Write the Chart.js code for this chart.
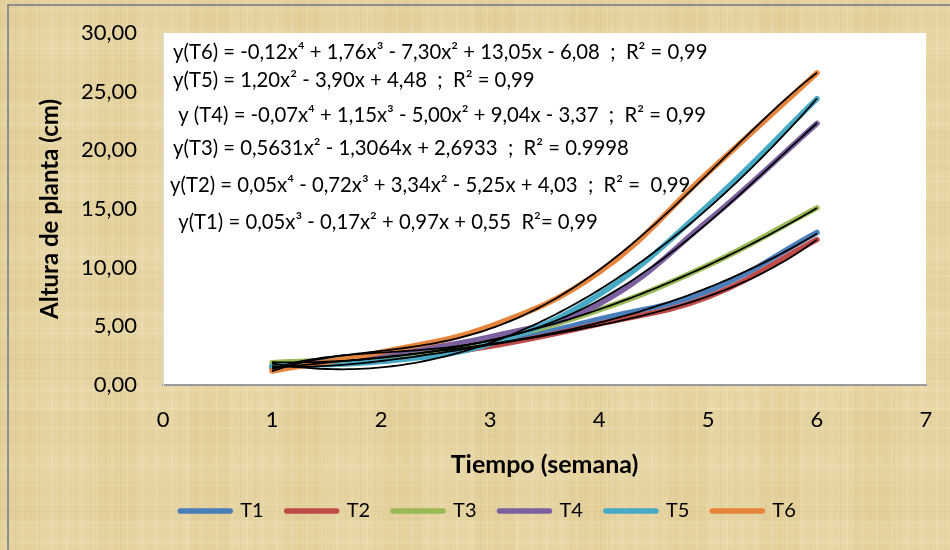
<!DOCTYPE html>
<html><head><meta charset="utf-8">
<script src="https://cdn.jsdelivr.net/npm/chart.js@4.4.1/dist/chart.umd.min.js"></script>
<style>
html,body{margin:0;padding:0;width:950px;height:550px;overflow:hidden;}
body{position:relative;background-color:#e5d3a1;
background-image:
repeating-linear-gradient(90deg, rgba(190,158,85,0.10) 0px, rgba(190,158,85,0.10) 1px, transparent 1px, transparent 6px, rgba(255,248,222,0.14) 6px, rgba(255,248,222,0.14) 8px, transparent 8px, transparent 15px),
repeating-linear-gradient(0deg, rgba(190,158,85,0.08) 0px, rgba(190,158,85,0.08) 1px, transparent 1px, transparent 7px, rgba(255,248,222,0.12) 7px, rgba(255,248,222,0.12) 9px, transparent 9px, transparent 19px),
repeating-linear-gradient(90deg, rgba(205,175,100,0.10) 0px, rgba(205,175,100,0.10) 40px, transparent 40px, transparent 95px),
repeating-linear-gradient(0deg, rgba(255,242,205,0.12) 0px, rgba(255,242,205,0.12) 30px, transparent 30px, transparent 70px);}
#frame{position:absolute;left:7px;top:4px;width:990px;height:600px;border:2px solid #8e8e8e;box-sizing:border-box;}
#wrap{position:absolute;left:0;top:0;width:950px;height:550px;}
</style></head>
<body><div id="frame"></div><div id="wrap"><canvas id="c" width="950" height="550"></canvas></div>
<script>
// ---- data ----
const weeks = [1, 2, 3, 4, 5, 6];
const seriesNames = ['T1', 'T2', 'T3', 'T4', 'T5', 'T6'];
const T1 = [1.5, 2.2, 3.5, 5.6, 8.0, 13.0];
const T2 = [1.6, 2.1, 3.3, 5.2, 7.5, 12.4];
const T3 = [1.9, 2.4, 3.8, 6.4, 10.2, 15.1];
const T4 = [1.4, 2.6, 4.1, 6.9, 14.0, 22.3];
const T5 = [1.6, 2.0, 3.5, 7.7, 15.3, 24.4];
const T6 = [1.2, 2.8, 5.0, 9.6, 18.1, 26.6];
const trendDegrees = [3, 4, 2, 4, 2, 4];
const xTicks = [0, 1, 2, 3, 4, 5, 6, 7];
const yTicks = [0, 5, 10, 15, 20, 25, 30];
const equations = [
  'y(T6) = -0,12x\u2074 + 1,76x\u00B3 - 7,30x\u00B2 + 13,05x - 6,08  ;  R\u00B2 = 0,99',
  'y(T5) = 1,20x\u00B2 - 3,90x + 4,48  ;  R\u00B2 = 0,99',
  ' y (T4) = -0,07x\u2074 + 1,15x\u00B3 - 5,00x\u00B2 + 9,04x - 3,37  ;  R\u00B2 = 0,99',
  'y(T3) = 0,5631x\u00B2 - 1,3064x + 2,6933  ;  R\u00B2 = 0.9998',
  'y(T2) = 0,05x\u2074 - 0,72x\u00B3 + 3,34x\u00B2 - 5,25x + 4,03  ;  R\u00B2 =  0,99',
  ' y(T1) = 0,05x\u00B3 - 0,17x\u00B2 + 0,97x + 0,55  R\u00B2= 0,99'
];
// ---- styling ----
const colors = ['#4a7ebb', '#be4b48', '#98b954', '#7d60a0', '#46aac5', '#e6843c'];
const allSeries = [T1, T2, T3, T4, T5, T6];
const eqDx = [10, 10, 10, 10, 7, 10];
const eqDy = [19, 47, 82, 115, 152, 189];

// least-squares polynomial trendline (like the spreadsheet trendline)
function polyFit(xs, ys, deg) {
  const n = deg + 1;
  const A = [];
  for (let r = 0; r < n; r++) {
    A.push(new Array(n + 1).fill(0));
    for (let c = 0; c < n; c++) A[r][c] = xs.reduce((s, x) => s + Math.pow(x, r + c), 0);
    A[r][n] = xs.reduce((s, x, i) => s + ys[i] * Math.pow(x, r), 0);
  }
  for (let i = 0; i < n; i++) {
    let p = i;
    for (let k = i + 1; k < n; k++) if (Math.abs(A[k][i]) > Math.abs(A[p][i])) p = k;
    [A[i], A[p]] = [A[p], A[i]];
    for (let k = i + 1; k < n; k++) {
      const f = A[k][i] / A[i][i];
      for (let c = i; c <= n; c++) A[k][c] -= f * A[i][c];
    }
  }
  const coef = new Array(n).fill(0);
  for (let i = n - 1; i >= 0; i--) {
    let s = A[i][n];
    for (let c = i + 1; c < n; c++) s -= A[i][c] * coef[c];
    coef[i] = s / A[i][i];
  }
  return x => coef.reduce((s, a, k) => s + a * Math.pow(x, k), 0);
}

const datasets = [];
allSeries.forEach((ys, i) => {
  const f = polyFit(weeks, ys, trendDegrees[i]);
  const pts = [];
  const x0 = weeks[0], x1 = weeks[weeks.length - 1];
  for (let k = 0; k <= 100; k++) { const x = x0 + (x1 - x0) * k / 100; pts.push({x, y: f(x)}); }
  datasets.push({
    label: 'trend ' + seriesNames[i], data: pts, isTrend: true,
    borderColor: '#000', borderWidth: 1.8, pointRadius: 0, tension: 0, order: 0, fill: false
  });
});
allSeries.forEach((ys, i) => {
  datasets.push({
    label: seriesNames[i], data: weeks.map((x, k) => ({x, y: ys[k]})),
    borderColor: colors[i], backgroundColor: colors[i], borderWidth: 5.5,
    borderCapStyle: 'round', borderJoinStyle: 'round',
    pointRadius: 0, tension: 0.4, order: 10 - i, fill: false
  });
});

const plotBg = {
  id: 'plotBg',
  beforeDraw(chart) {
    const {ctx, chartArea: a} = chart;
    ctx.save(); ctx.fillStyle = '#ffffff';
    ctx.fillRect(a.left, a.top, a.right - a.left, a.bottom - a.top);
    ctx.restore();
  },
  afterDatasetsDraw(chart) {
    const {ctx, chartArea: a} = chart;
    ctx.save();
    ctx.fillStyle = '#000';
    ctx.font = '20.3px Lato, "Open Sans", sans-serif';
    ctx.textBaseline = 'middle';
    ctx.textAlign = 'left';
    equations.forEach((t, i) => ctx.fillText(t, a.left + eqDx[i], a.top + eqDy[i]));
    ctx.restore();
  }
};

new Chart(document.getElementById('c'), {
  type: 'line',
  data: { datasets },
  options: {
    responsive: false, animation: false,
    layout: { padding: { left: 50, right: 24, top: 33, bottom: 19 } },
    plugins: {
      tooltip: { enabled: false },
      legend: {
        position: 'bottom',
        labels: {
          usePointStyle: true, pointStyle: 'line', pointStyleWidth: 50,
          padding: 23, color: '#000',
          font: { family: 'Lato', size: 20 },
          filter: (item, data) => !data.datasets[item.datasetIndex].isTrend,
          sort: (a, b) => a.datasetIndex - b.datasetIndex,
          generateLabels(chart) {
            const items = Chart.defaults.plugins.legend.labels.generateLabels(chart);
            items.forEach(it => { it.lineCap = 'round'; it.lineWidth = 5.5; it.fontColor = '#000'; });
            return items;
          }
        }
      }
    },
    scales: {
      x: {
        type: 'linear', min: 0, max: 7,
        afterBuildTicks: s => { s.ticks = xTicks.map(v => ({value: v})); },
        afterFit: s => { s.paddingLeft = 0; s.paddingRight = 0; },
        grid: { display: false, drawTicks: false },
        border: { display: true, color: '#9a9a9a', width: 2 },
        ticks: { padding: 22, color: '#000', font: { family: 'Lato', size: 22 } },
        title: { display: true, text: 'Tiempo (semana)', color: '#000',
          font: { family: 'Lato', size: 25, weight: 'bold' }, padding: { top: -5.4, bottom: -2 } }
      },
      y: {
        min: 0, max: 30,
        afterBuildTicks: s => { s.ticks = yTicks.map(v => ({value: v})); },
        afterFit: s => { s.paddingTop = 0; s.paddingBottom = 0; },
        grid: { display: false, drawTicks: false },
        border: { display: true, color: '#dcdcdc', width: 1 },
        ticks: { padding: 26, color: '#000', font: { family: 'Lato', size: 22 },
          callback: v => v.toFixed(2).replace('.', ',') },
        title: { display: true, text: 'Altura de planta (cm)', color: '#000',
          font: { family: 'Lato', size: 24, weight: 'bold' }, padding: { top: -14.4, bottom: -9.4 } }
      }
    }
  },
  plugins: [plotBg]
});
</script>
</body></html>
